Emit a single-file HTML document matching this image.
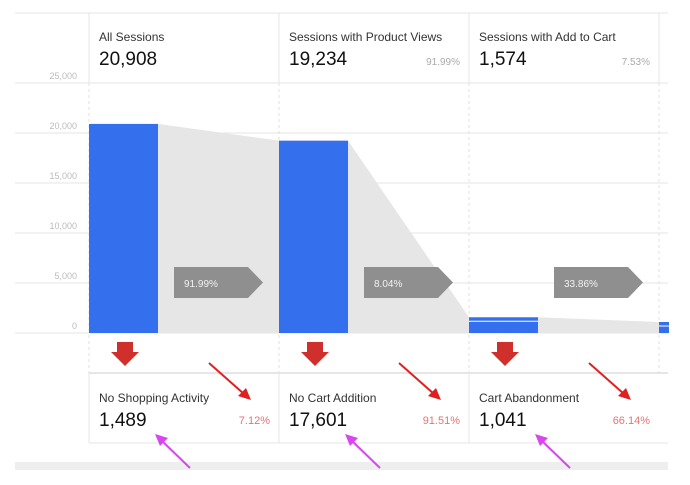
<!DOCTYPE html>
<html><head><meta charset="utf-8"><style>
body{margin:0;background:#fff;width:690px;height:480px;overflow:hidden;font-family:"Liberation Sans",sans-serif}
svg text{font-family:"Liberation Sans",sans-serif}
</style></head><body>
<svg id="chart" width="690" height="480" viewBox="0 0 690 480" xmlns="http://www.w3.org/2000/svg">
<g id="grid"></g>
<g id="funnel"></g>
<g id="bars"></g>
<g id="labels"></g>
</svg>
<script>
const stages = ["All Sessions","Sessions with Product Views","Sessions with Add to Cart","Purchases"];
const stageValues = [20908,19234,1574,1100];
const stagePcts = ["","91.99%","7.53%",""];
const stepPcts = ["91.99%","8.04%","33.86%"];
const dropLabels = ["No Shopping Activity","No Cart Addition","Cart Abandonment"];
const dropValues = [1489,17601,1041];
const dropPcts = ["7.12%","91.51%","66.14%"];
const yTicks = [0,5000,10000,15000,20000,25000];

const NS="http://www.w3.org/2000/svg";
const y0=333, yMax=25000, plotH=250;
const y=v=>y0-v/yMax*plotH;
const colX=i=>89+i*190;
const barW=69;
function mk(tag,attrs,parent,txt){const e=document.createElementNS(NS,tag);for(const k in attrs)e.setAttribute(k,attrs[k]);if(txt!==undefined)e.textContent=txt;parent.appendChild(e);return e;}
const grid=document.getElementById('grid'),fun=document.getElementById('funnel'),bars=document.getElementById('bars'),lab=document.getElementById('labels');
// frame lines
let l=mk('line',{x1:15,x2:668,y1:13,y2:13,stroke:'#e6e6e6'},grid);


l=mk('line',{x1:89,x2:668,y1:373,y2:373,stroke:'#e6e6e6','stroke-width':2},grid);


l=mk('line',{x1:89,x2:668,y1:443,y2:443,stroke:'#e6e6e6'},grid);


l=mk('rect',{x:15,y:462,width:653,height:8,fill:'#eeeeee'},grid);


yTicks.forEach(t=>{
  const g=mk('line',{x1:15,x2:668,y1:y(t),y2:y(t),stroke:'#e6e6e6'},grid);
  
  
  const tx=mk('text',{x:77,y:y(t)-4,'text-anchor':'end','font-size':9,fill:'#bbbbbb'},grid,t.toLocaleString('en-US'));
  
  
});
stages.forEach((s,i)=>{
  const x=colX(i);
  let v=mk('line',{x1:x,x2:x,y1:13,y2:83,stroke:'#e6e6e6'},grid);
  
  
  v=mk('line',{x1:x,x2:x,y1:83,y2:373,stroke:'#e0e0e0','stroke-dasharray':'3,3'},grid);
  
  
  if(i<3){v=mk('line',{x1:x,x2:x,y1:373,y2:443,stroke:'#e6e6e6'},grid);
  
  }
});
// funnel shading
for(let i=0;i<stages.length-1;i++){
  const x1=colX(i)+barW,x2=colX(i+1);
  const p=mk('polygon',{points:`${x1},${y(stageValues[i])} ${x2},${y(stageValues[i+1])} ${x2},${y0} ${x1},${y0}`,fill:'#e6e6e6'},fun);
  
  
}
// bars
stages.forEach((s,i)=>{
  const x=colX(i);const w=i===3?10:barW;
  const r=mk('rect',{x:x,y:y(stageValues[i]),width:w,height:y0-y(stageValues[i]),fill:'#3470ee'},bars);
  
  
  if(i>=2){const ln=mk('line',{x1:x,x2:x+w,y1:y(stageValues[i])+4,y2:y(stageValues[i])+4,stroke:'#ffffff','stroke-width':1},bars);
  
  }
});
// header labels
stages.slice(0,3).forEach((s,i)=>{
  const x=colX(i)+10;
  let t=mk('text',{x:x,y:41,'font-size':12,fill:'#333'},lab,s);
  
  
  t=mk('text',{x:x,y:65,'font-size':19,fill:'#111'},lab,stageValues[i].toLocaleString('en-US'));
  
  
  if(stagePcts[i]){t=mk('text',{x:colX(i)+181,y:65,'font-size':10,fill:'#aaaaaa','text-anchor':'end'},lab,stagePcts[i]);
  
  }
});
// step pentagons
stepPcts.forEach((p,i)=>{
  const x=colX(i)+85;
  const pg=mk('polygon',{points:`${x},267 ${x+74},267 ${x+89},282.5 ${x+74},298 ${x},298`,fill:'#8f8f8f'},lab);
  
  
  const t=mk('text',{x:x+10,y:287,'font-size':10,fill:'#f2f2f2'},lab,p);
  
  
});
// drop-off section
dropLabels.forEach((d,i)=>{
  const x=colX(i);
  const ar=mk('polygon',{points:`${x+28},342 ${x+44},342 ${x+44},352 ${x+50},352 ${x+36},366 ${x+22},352 ${x+28},352`,fill:'#d0302b'},lab);
  
  
  let t=mk('text',{x:x+10,y:402,'font-size':12,fill:'#333'},lab,d);
  
  
  t=mk('text',{x:x+10,y:426,'font-size':19,fill:'#111'},lab,dropValues[i].toLocaleString('en-US'));
  
  
  t=mk('text',{x:x+181,y:424,'font-size':11,fill:'#e57373','text-anchor':'end'},lab,dropPcts[i]);
  
  
  // red annotation arrow
  let a=mk('line',{x1:x+120,y1:363,x2:x+155,y2:394,stroke:'#e02020','stroke-width':2},lab);
  
  
  a=mk('polygon',{points:`${x+162},400 ${x+149},396 ${x+157},388`,fill:'#e02020'},lab);
  
  
  // magenta arrow
  a=mk('line',{x1:x+101,y1:468,x2:x+72,y2:440,stroke:'#d946ef','stroke-width':2},lab);
  
  
  a=mk('polygon',{points:`${x+66},434 ${x+79},438 ${x+71},446`,fill:'#d946ef'},lab);
  
  
});
</script>
</body></html>
